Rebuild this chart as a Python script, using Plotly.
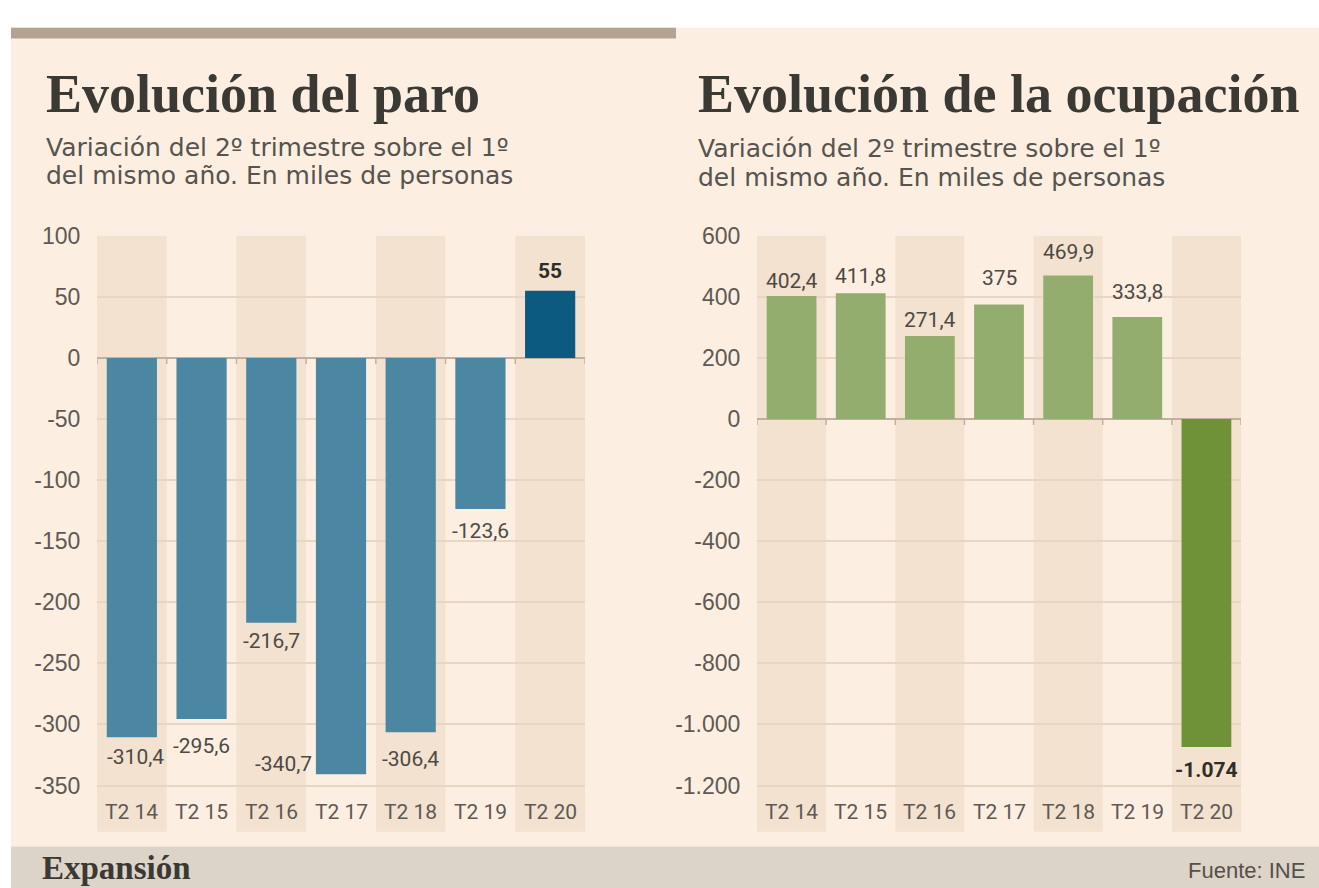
import plotly.graph_objects as go

# ---------------- data ----------------
categories = ["T2 14", "T2 15", "T2 16", "T2 17", "T2 18", "T2 19", "T2 20"]
paro_values = [-310.4, -295.6, -216.7, -340.7, -306.4, -123.6, 55]
paro_labels = ["-310,4", "-295,6", "-216,7", "-340,7", "-306,4", "-123,6", "55"]
ocup_values = [402.4, 411.8, 271.4, 375, 469.9, 333.8, -1074]
ocup_labels = ["402,4", "411,8", "271,4", "375", "469,9", "333,8", "-1.074"]
paro_ticks = [100, 50, 0, -50, -100, -150, -200, -250, -300, -350]
ocup_ticks = [600, 400, 200, 0, -200, -400, -600, -800, -1000, -1200]

paro_ticktext = [str(v) for v in paro_ticks]
ocup_ticktext = [f"{v:,}".replace(",", ".") for v in ocup_ticks]

# ---------------- styling ----------------
W, H = 1319, 888
CREAM = "#fcefe2"
STRIPE = "#f3e2d0"
GRID = "#e7d6c4"
ZERO = "#c2b09e"
TXT = "#3b3934"
SUB = "#57534e"
TICKC = "#5e5954"
NUM_FONT = "Noto Sans Condensed, Liberation Sans Narrow, Roboto, sans-serif"
TICK_FONT = "Liberation Sans, Arial, sans-serif"
SERIF = "Liberation Serif, Times New Roman, serif"
SUB_FONT = "DejaVu Sans, sans-serif"

paro_colors = ["#4b86a2"] * 6 + ["#0c5a80"]
ocup_colors = ["#93ad6e"] * 6 + ["#6f9239"]

# pixel offsets of value labels from the bar end (positive = away from bar)
paro_dy = [20, 27, 18, -10, 27, 22, 20]
paro_dx = [4, 0, 0, -58, 0, 0, 0]
ocup_dy = [15, 17, 16, 26, 23, 25, 23]
ocup_dx = [0, 0, 0, 0, 0, 0, 0]


def px(x):
    return x / W


def py(y):
    return 1 - y / H


fig = go.Figure()

fig.add_trace(go.Bar(x=categories, y=paro_values, marker=dict(color=paro_colors, line=dict(width=0)),
                     xaxis="x", yaxis="y", hoverinfo="x+y", showlegend=False))
fig.add_trace(go.Bar(x=categories, y=ocup_values, marker=dict(color=ocup_colors, line=dict(width=0)),
                     xaxis="x2", yaxis="y2", hoverinfo="x+y", showlegend=False))

shapes = [
    # cream card
    dict(type="rect", xref="paper", yref="paper", x0=px(11), x1=1, y0=py(846), y1=py(15),
         fillcolor=CREAM, line=dict(width=0), layer="below"),
    # footer band
    dict(type="rect", xref="paper", yref="paper", x0=px(11), x1=1, y0=0, y1=py(846),
         fillcolor="#dcd3c9", line=dict(width=0), layer="below"),
    # top rule
    dict(type="rect", xref="paper", yref="paper", x0=px(11), x1=px(676), y0=py(26), y1=py(15),
         fillcolor="#b4a391", line=dict(width=0), layer="below"),
]

annotations = []

for xr, yr in (("x", "y"), ("x2", "y2")):
    for i, c in enumerate(categories):
        if i % 2 == 0:
            shapes.append(dict(type="rect", xref=xr, yref=yr + " domain", x0=i - 0.5, x1=i + 0.5,
                               y0=0, y1=1, fillcolor=STRIPE, line=dict(width=0), layer="below"))
        annotations.append(dict(x=c, y=0.033, xref=xr, yref=yr + " domain", text=c, showarrow=False,
                                font=dict(family=NUM_FONT, size=21, color=TICKC),
                                xanchor="center", yanchor="middle"))
    for i in range(len(categories) + 1):
        shapes.append(dict(type="line", xref=xr, yref=yr, x0=i - 0.5, x1=i - 0.5,
                           ysizemode="pixel", yanchor=0, y0=0, y1=-6,
                           line=dict(color=ZERO, width=1.5)))


def value_labels(cats, vals, texts, dys, dxs, xr, yr):
    out = []
    for i, (c, v, t) in enumerate(zip(cats, vals, texts)):
        bold = i == len(cats) - 1
        sgn = 1 if v >= 0 else -1
        out.append(dict(x=c, y=v, xref=xr, yref=yr, text=("<b>%s</b>" % t) if bold else t,
                        showarrow=False, xanchor="center", yanchor="middle",
                        xshift=dxs[i], yshift=sgn * dys[i],
                        font=dict(family=NUM_FONT, size=21, color="#2f2d2a" if bold else "#4d4944")))
    return out


annotations += value_labels(categories, paro_values, paro_labels, paro_dy, paro_dx, "x", "y")
annotations += value_labels(categories, ocup_values, ocup_labels, ocup_dy, ocup_dx, "x2", "y2")

# titles & text
annotations += [
    dict(x=px(44), y=py(82), xref="paper", yref="paper", text="<b>Evolución del paro</b>",
         showarrow=False, xanchor="left", yanchor="middle", font=dict(family=SERIF, size=54, color=TXT)),
    dict(x=px(696), y=py(82), xref="paper", yref="paper", text="<b>Evolución de la ocupación</b>",
         showarrow=False, xanchor="left", yanchor="middle", font=dict(family=SERIF, size=54, color=TXT)),
]
for x0, dy in ((44, 0), (696, 2)):
    annotations.append(dict(x=px(x0), y=py(136 + dy), xref="paper", yref="paper",
                            text="Variación del 2º trimestre sobre el 1º", showarrow=False,
                            xanchor="left", yanchor="middle",
                            font=dict(family=SUB_FONT, size=25, color=SUB)))
    annotations.append(dict(x=px(x0), y=py(165 + dy), xref="paper", yref="paper",
                            text="del mismo año. En miles de personas", showarrow=False,
                            xanchor="left", yanchor="middle",
                            font=dict(family=SUB_FONT, size=25, color=SUB)))
annotations.append(dict(x=px(40), y=py(868), xref="paper", yref="paper", text="<b>Expansión</b>",
                        showarrow=False, xanchor="left", yanchor="middle",
                        font=dict(family=SERIF, size=33, color=TXT)))
annotations.append(dict(x=px(1307), y=py(870), xref="paper", yref="paper", text="Fuente: INE",
                        showarrow=False, xanchor="right", yanchor="middle",
                        font=dict(family=TICK_FONT, size=22, color="#555049")))

xcommon = dict(type="category", range=[-0.5, 6.5], showticklabels=False, showgrid=False,
               zeroline=False, showline=False, ticks="", fixedrange=True)
ycommon = dict(showgrid=True, gridcolor=GRID, gridwidth=1.5, zeroline=True, zerolinecolor=ZERO,
               zerolinewidth=1.5, showline=False, ticks="outside", ticklen=11, tickcolor="rgba(0,0,0,0)",
               tickfont=dict(family=TICK_FONT, size=23, color=TICKC), fixedrange=True)

fig.update_layout(
    width=W, height=H, margin=dict(l=0, r=0, t=0, b=0),
    paper_bgcolor="white", plot_bgcolor="rgba(0,0,0,0)",
    bargap=0.28, showlegend=False,
    xaxis=dict(domain=[px(97), px(585)], anchor="y", **xcommon),
    yaxis=dict(domain=[py(831), py(226)], anchor="x", range=[-387.9, 100],
               tickvals=paro_ticks, ticktext=paro_ticktext, **ycommon),
    xaxis2=dict(domain=[px(757), px(1241)], anchor="y2", **xcommon),
    yaxis2=dict(domain=[py(831), py(226)], anchor="x2", range=[-1351.6, 600],
                tickvals=ocup_ticks, ticktext=ocup_ticktext, **ycommon),
    shapes=shapes, annotations=annotations,
)

fig.write_html("out.html", config={"displayModeBar": False},
               post_script="document.body.style.margin='0px';")
